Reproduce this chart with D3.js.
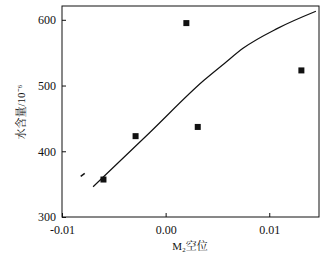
<!DOCTYPE html>
<html><head><meta charset="utf-8">
<script src="https://cdn.jsdelivr.net/npm/d3@7"></script>
<style>body{margin:0;background:#fff}svg{display:block}</style>
</head><body>
<script>
const pointX = [-0.0060, -0.0029, 0.0031, 0.0020, 0.0131];
const pointY = [357, 423, 437, 595, 523];
const lineX = [-0.0070, -0.0015, 0.0037, 0.0057, 0.0075, 0.0108, 0.0145];
const lineY = [346, 429, 508, 534, 557, 587, 613];
const markX = [-0.0080];
const markY = [364];
const xTicks = [-0.01, 0, 0.01];
const xTickLabels = ["-0.01", "0.00", "0.01"];
const yTicks = [300, 400, 500, 600];

const W = 329, H = 263;
const L = 62, R = 319, T = 6, B = 217;
const svg = d3.select("body").append("svg").attr("width", W).attr("height", H);
const x = d3.scaleLinear().domain([-0.01, 0.0148]).range([L, R]);
const y = d3.scaleLinear().domain([300, 621]).range([B, T]);
const font = "'Liberation Serif', 'Times New Roman', 'Noto Serif CJK SC', 'Noto Sans CJK SC', serif";

svg.append("rect").attr("x", L).attr("y", T).attr("width", R - L).attr("height", B - T)
  .attr("fill", "none").attr("stroke", "#111").attr("stroke-width", 1);

const xa = svg.append("g").attr("transform", `translate(0,${B})`)
  .call(d3.axisBottom(x).tickValues(xTicks).tickSizeInner(-4).tickSizeOuter(0).tickPadding(8)
    .tickFormat((d, i) => xTickLabels[i]));
const ya = svg.append("g").attr("transform", `translate(${L},0)`)
  .call(d3.axisLeft(y).tickValues(yTicks).tickSizeInner(-4).tickSizeOuter(0).tickPadding(6));
[xa, ya].forEach(a => {
  a.select(".domain").remove();
  a.selectAll("line").attr("stroke", "#111");
  a.selectAll("text").attr("font-family", font).attr("font-size", 12).attr("fill", "#111");
});

svg.append("path")
  .datum(lineX.map((d, i) => [d, lineY[i]]))
  .attr("d", d3.line().x(d => x(d[0])).y(d => y(d[1])).curve(d3.curveMonotoneX))
  .attr("fill", "none").attr("stroke", "#111").attr("stroke-width", 1.2);

svg.selectAll("rect.pt").data(pointX.map((d, i) => [d, pointY[i]])).enter()
  .append("rect").attr("class", "pt")
  .attr("x", d => x(d[0]) - 3).attr("y", d => y(d[1]) - 3)
  .attr("width", 6).attr("height", 6).attr("fill", "#111");

svg.selectAll("line.mk").data(markX.map((d, i) => [d, markY[i]])).enter()
  .append("line").attr("class", "mk")
  .attr("x1", d => x(d[0]) - 2).attr("y1", d => y(d[1]) + 1.5)
  .attr("x2", d => x(d[0]) + 2).attr("y2", d => y(d[1]) - 1.5)
  .attr("stroke", "#111").attr("stroke-width", 1.5);

svg.append("text").attr("x", 190).attr("y", 250).attr("text-anchor", "middle")
  .attr("font-family", font).attr("font-size", 11).attr("fill", "#111")
  .text("M₂空位");

svg.append("text").attr("transform", "translate(25,112) rotate(-90)").attr("text-anchor", "middle")
  .attr("font-family", font).attr("font-size", 11).attr("fill", "#111")
  .text("水含量/10⁻⁶");
</script>
</body></html>
